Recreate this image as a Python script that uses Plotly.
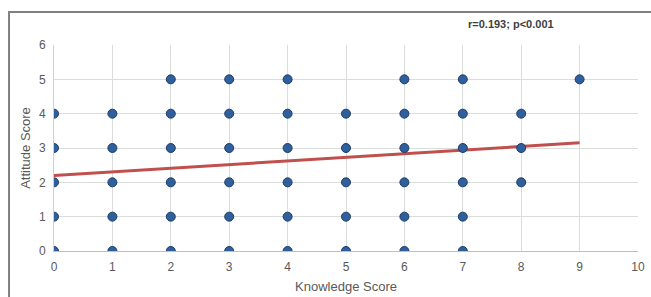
import plotly.graph_objects as go

# Data
knowledge = [0]*5 + [1]*5 + [2]*6 + [3]*6 + [4]*6 + [5]*5 + [6]*6 + [7]*6 + [8]*3 + [9]
attitude = ([0, 1, 2, 3, 4] + [0, 1, 2, 3, 4] + [0, 1, 2, 3, 4, 5] + [0, 1, 2, 3, 4, 5]
            + [0, 1, 2, 3, 4, 5] + [0, 1, 2, 3, 4] + [0, 1, 2, 3, 4, 5] + [0, 1, 2, 3, 4, 5]
            + [2, 3, 4] + [5])
trend_x = [0, 9]
trend_y = [2.2, 3.15]
x_ticks = list(range(0, 11))
y_ticks = list(range(0, 7))
annotation_text = "r=0.193; p<0.001"

font_family = "Liberation Sans Narrow, Liberation Sans, Arial, sans-serif"
tick_color = "#595959"
grid_color = "#d9dedb"

fig = go.Figure()
fig.add_trace(go.Scatter(
    x=trend_x, y=trend_y, mode="lines",
    line=dict(color="#c0504d", width=3), showlegend=False, hoverinfo="skip"))
fig.add_trace(go.Scatter(
    x=knowledge, y=attitude, mode="markers",
    marker=dict(size=9, color="#2f5f9c", line=dict(color="#1d3c66", width=1)),
    showlegend=False))

fig.update_layout(
    width=651, height=297,
    margin=dict(l=54, r=13, t=45, b=46),
    paper_bgcolor="white", plot_bgcolor="white",
    font=dict(family=font_family, size=12, color=tick_color),
    xaxis=dict(range=[0, 10], tickvals=x_ticks, showgrid=True, gridcolor=grid_color,
               gridwidth=1, zeroline=False, showline=True, linecolor="#bfbfbf",
               linewidth=1, ticks="", automargin=False, ticklabelstandoff=5,
               tickfont=dict(size=12, color=tick_color),
               title=dict(text="Knowledge Score", font=dict(size=13, color=tick_color), standoff=8)),
    yaxis=dict(range=[0, 6], tickvals=y_ticks, showgrid=True, gridcolor=grid_color,
               gridwidth=1, zeroline=False, showline=True, linecolor="#d0d0d0",
               linewidth=1, ticks="", automargin=False, ticklabelstandoff=5,
               tickfont=dict(size=12, color=tick_color),
               title=dict(text="Attitude Score", font=dict(size=13, color=tick_color), standoff=5)),
    annotations=[dict(text="<b>" + annotation_text + "</b>", xref="paper", yref="paper",
                      x=0.783, y=1.1, xanchor="center", yanchor="middle", showarrow=False,
                      font=dict(size=11, color="#404040", family=font_family))],
    shapes=[dict(type="rect", xref="paper", yref="paper",
                 x0=-0.077, y0=-0.25, x1=1.03, y1=1.16,
                 line=dict(color="#808080", width=2), layer="below")],
)

fig.write_html(
    "out.html",
    config={"displayModeBar": False},
    post_script="document.body.style.margin='0';document.body.style.padding='0';"
                "document.body.style.overflow='hidden';",
)
